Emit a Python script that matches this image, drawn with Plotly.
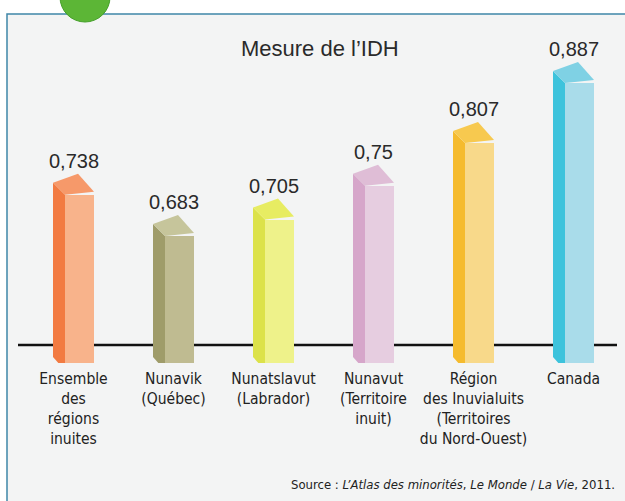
import plotly.graph_objects as go

# ---- data ----
categories = [
    "Ensemble<br>des<br>régions<br>inuites",
    "Nunavik<br>(Québec)",
    "Nunatslavut<br>(Labrador)",
    "Nunavut<br>(Territoire<br>inuit)",
    "Région<br>des Inuvialuits<br>(Territoires<br>du Nord-Ouest)",
    "Canada",
]
values = [0.738, 0.683, 0.705, 0.75, 0.807, 0.887]
value_labels = ["0,738", "0,683", "0,705", "0,75", "0,807", "0,887"]

# ---- styles ----
face_colors = ["#f8b38b", "#bfbb91", "#eef28a", "#e6cde0", "#f8d98a", "#a9dcea"]
side_colors = ["#f27b42", "#9f9c6a", "#dce24a", "#d6a6ca", "#f5bb2e", "#3dc3dc"]
cap_colors = ["#f6996a", "#c6c59b", "#e7ec62", "#dfbdd6", "#f7c94f", "#7fd1e4"]

NARROW = "DejaVu Sans Condensed, sans-serif"
W, H = 625, 501
PX_X = 100.0   # px per category unit
PX_Y = 750.0   # px per value unit
Y_MIN = 0.5137
PLOT_H = 363
Y_MAX = Y_MIN + PLOT_H / PX_Y
X_MIN = -0.735
X_MAX = X_MIN + W / PX_X

xs = list(range(len(values)))
sl, sr, fr = -0.205, -0.085, 0.205  # side-left, side-right(face-left), face-right

fig = go.Figure()

# side faces
for i, v in enumerate(values):
    x = xs[i]
    fig.add_trace(go.Scatter(
        x=[x + sl, x + sl, x + sr, x + sr, x + sl],
        y=[Y_MIN + 6 / PX_Y, v + 12 / PX_Y, v, Y_MIN - 0.01, Y_MIN + 6 / PX_Y],
        fill="toself", fillcolor=side_colors[i], mode="lines",
        line=dict(width=0), hoverinfo="skip", showlegend=False))

# front faces
fig.add_trace(go.Bar(
    x=xs, y=values, width=0.29, offset=sr,
    marker=dict(color=face_colors, line=dict(width=0)),
    showlegend=False, hoverinfo="skip"))

# caps
for i, v in enumerate(values):
    x = xs[i]
    fig.add_trace(go.Scatter(
        x=[x + sl, x + 0.045, x + fr, x + sr, x + sl],
        y=[v + 12 / PX_Y, v + 21 / PX_Y, v + 3 / PX_Y, v, v + 12 / PX_Y],
        fill="toself", fillcolor=cap_colors[i], mode="lines",
        line=dict(width=0), hoverinfo="skip", showlegend=False))

# value labels
for i, v in enumerate(values):
    fig.add_annotation(x=xs[i], y=v, text=value_labels[i], showarrow=False,
                       yshift=34, font=dict(size=20, color="#2a2a2a",
                                            family="Liberation Sans, Arial, sans-serif"))

# frame + background
fig.add_shape(type="rect", xref="paper", yref="paper",
              x0=7 / W, x1=1.05, y0=1 - 520 / PLOT_H, y1=1 - 14 / PLOT_H,
              fillcolor="#f3f4f4", line=dict(color="#3f86a8", width=1.5),
              layer="below")
# baseline
fig.add_shape(type="line", xref="paper", yref="y",
              x0=18 / W, x1=617 / W, y0=Y_MIN + 18 / PX_Y, y1=Y_MIN + 18 / PX_Y,
              line=dict(color="#111111", width=2.5), layer="below")
# green badge
fig.add_shape(type="circle", xref="paper", yref="paper",
              x0=60 / W, x1=110 / W, y0=1 - 22 / PLOT_H, y1=1 + 28 / PLOT_H,
              fillcolor="#5cb636", line=dict(color="#45a02a", width=1), layer="above")

# title
fig.add_annotation(xref="paper", yref="paper", x=320 / W, y=1 - 48 / PLOT_H,
                   xanchor="center", yanchor="middle",
                   text="Mesure de l’IDH", showarrow=False,
                   font=dict(size=22, color="#2a2a2a",
                             family="Liberation Sans, Arial, sans-serif"))
# source
fig.add_annotation(xref="paper", yref="paper", x=617 / W, y=1 - 484 / PLOT_H,
                   xanchor="right", yanchor="middle",
                   text="Source : <i>L’Atlas des minorités</i>, <i>Le Monde</i> / <i>La Vie</i>, 2011.",
                   showarrow=False,
                   font=dict(size=13, color="#222222", family=NARROW))

fig.update_layout(
    width=W, height=H,
    margin=dict(l=0, r=0, t=0, b=H - PLOT_H, autoexpand=False),
    paper_bgcolor="white", plot_bgcolor="rgba(0,0,0,0)",
    bargap=0,
    xaxis=dict(range=[X_MIN, X_MAX], tickvals=xs, ticktext=categories,
               showgrid=False, zeroline=False, showline=False, ticks="",
               ticklabelstandoff=4, tickangle=0, automargin=False,
               tickfont=dict(size=15.5, color="#222222", family=NARROW)),
    yaxis=dict(range=[Y_MIN, Y_MAX], visible=False, showgrid=False, zeroline=False),
)

fig.write_html("out.html", config={"displayModeBar": False},
               post_script="document.body.style.margin='0';document.body.style.overflow='hidden';")
